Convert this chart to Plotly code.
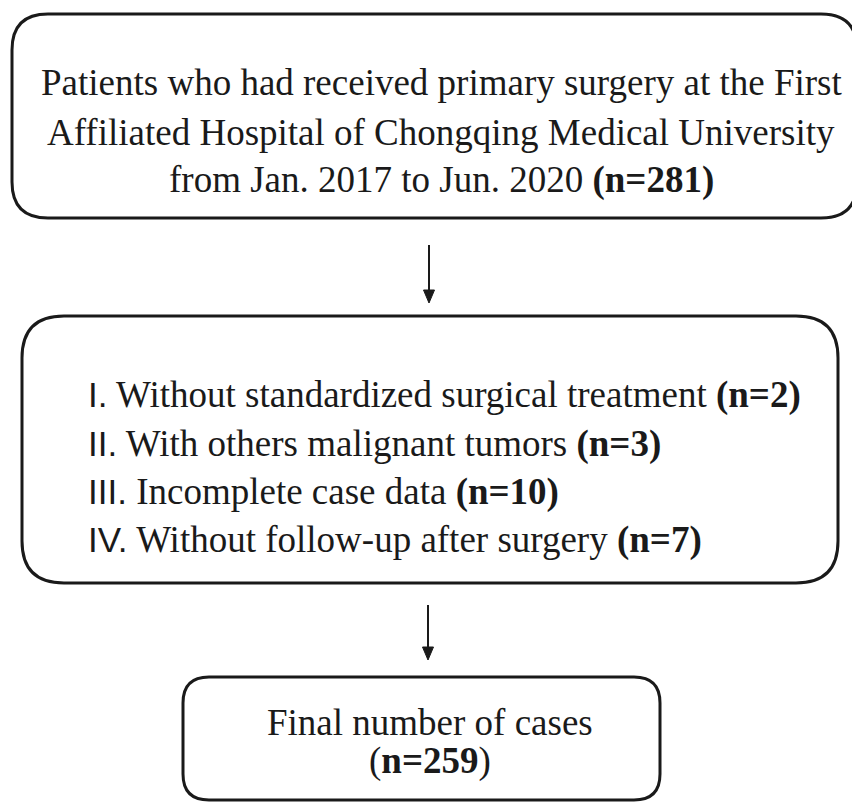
import plotly.graph_objects as go

W, H = 860, 805
OFF = 8  # page body margin, so axis units equal screen pixels
SERIF = "Liberation Serif, Times New Roman, serif"
SANS = "Liberation Sans, Arial, sans-serif"
FS = 37

# Flowchart content
top_lines = [
    "Patients who had received primary surgery at the First",
    "Affiliated Hospital of Chongqing Medical University",
    "from Jan. 2017 to Jun. 2020 <b>(n=281)</b>",
]
excl_numerals = ["I", "II", "III", "IV"]
excl_reasons = [
    "Without standardized surgical treatment",
    "With others malignant tumors",
    "Incomplete case data",
    "Without follow-up after surgery",
]
excl_counts = [2, 3, 10, 7]
final_label = "Final number of cases"
final_count = 259

# layout geometry (pixels)
boxes = [
    dict(x0=12, y0=14, x1=857, y1=218, r=36),
    dict(x0=22, y0=316, x1=838, y1=583, r=42),
    dict(x0=183, y0=677, x1=660, y1=800, r=26),
]
arrows = [(429, 245, 303), (428, 605, 660)]


def rrect(b):
    x0, y0, x1, y1, r = b["x0"], b["y0"], b["x1"], b["y1"], b["r"]
    return (f"M {x0+r},{y0} L {x1-r},{y0} Q {x1},{y0} {x1},{y0+r} "
            f"L {x1},{y1-r} Q {x1},{y1} {x1-r},{y1} L {x0+r},{y1} "
            f"Q {x0},{y1} {x0},{y1-r} L {x0},{y0+r} Q {x0},{y0} {x0+r},{y0} Z")


shapes = []
for b in boxes:
    shapes.append(dict(type="path", path=rrect(b), xref="x", yref="y",
                       line=dict(color="#1a1a1a", width=3), fillcolor="rgba(0,0,0,0)"))
for (x, ya, yb) in arrows:
    shapes.append(dict(type="line", x0=x, x1=x, y0=ya, y1=yb - 10, xref="x", yref="y",
                       line=dict(color="#1a1a1a", width=2)))
    shapes.append(dict(type="path", path=f"M {x-5.5},{yb-13} L {x+5.5},{yb-13} L {x},{yb} Z",
                       xref="x", yref="y", line=dict(color="#1a1a1a", width=1),
                       fillcolor="#1a1a1a"))

ann = []
top_y = [82, 132, 180]
for t, y in zip(top_lines, top_y):
    ann.append(dict(x=441, y=y, text=t, showarrow=False, xref="x", yref="y",
                    xanchor="center", yanchor="middle",
                    font=dict(family=SERIF, size=FS, color="#1a1a1a")))

ex_y = [395, 444, 492, 540]
for num, reason, cnt, y in zip(excl_numerals, excl_reasons, excl_counts, ex_y):
    txt = (f"<span style='font-family:{SANS};font-size:35px'>{num}.</span> "
           f"{reason} <b>(n={cnt})</b>")
    ann.append(dict(x=86, y=y, text=txt, showarrow=False, xref="x", yref="y",
                    xanchor="left", yanchor="middle", align="left",
                    font=dict(family=SERIF, size=FS, color="#1a1a1a")))

ann.append(dict(x=430, y=722, text=final_label, showarrow=False, xref="x", yref="y",
                xanchor="center", yanchor="middle",
                font=dict(family=SERIF, size=FS, color="#1a1a1a")))
ann.append(dict(x=430, y=761, text=f"(<b>n={final_count}</b>)", showarrow=False,
                xref="x", yref="y", xanchor="center", yanchor="middle",
                font=dict(family=SERIF, size=FS, color="#1a1a1a")))

fig = go.Figure()
fig.update_layout(
    width=W, height=H, margin=dict(l=0, r=0, t=0, b=0),
    paper_bgcolor="white", plot_bgcolor="white",
    xaxis=dict(range=[OFF, W + OFF], visible=False, fixedrange=True),
    yaxis=dict(range=[H + OFF, OFF], visible=False, fixedrange=True),
    shapes=shapes, annotations=ann, showlegend=False,
)
fig.write_html("out.html")
